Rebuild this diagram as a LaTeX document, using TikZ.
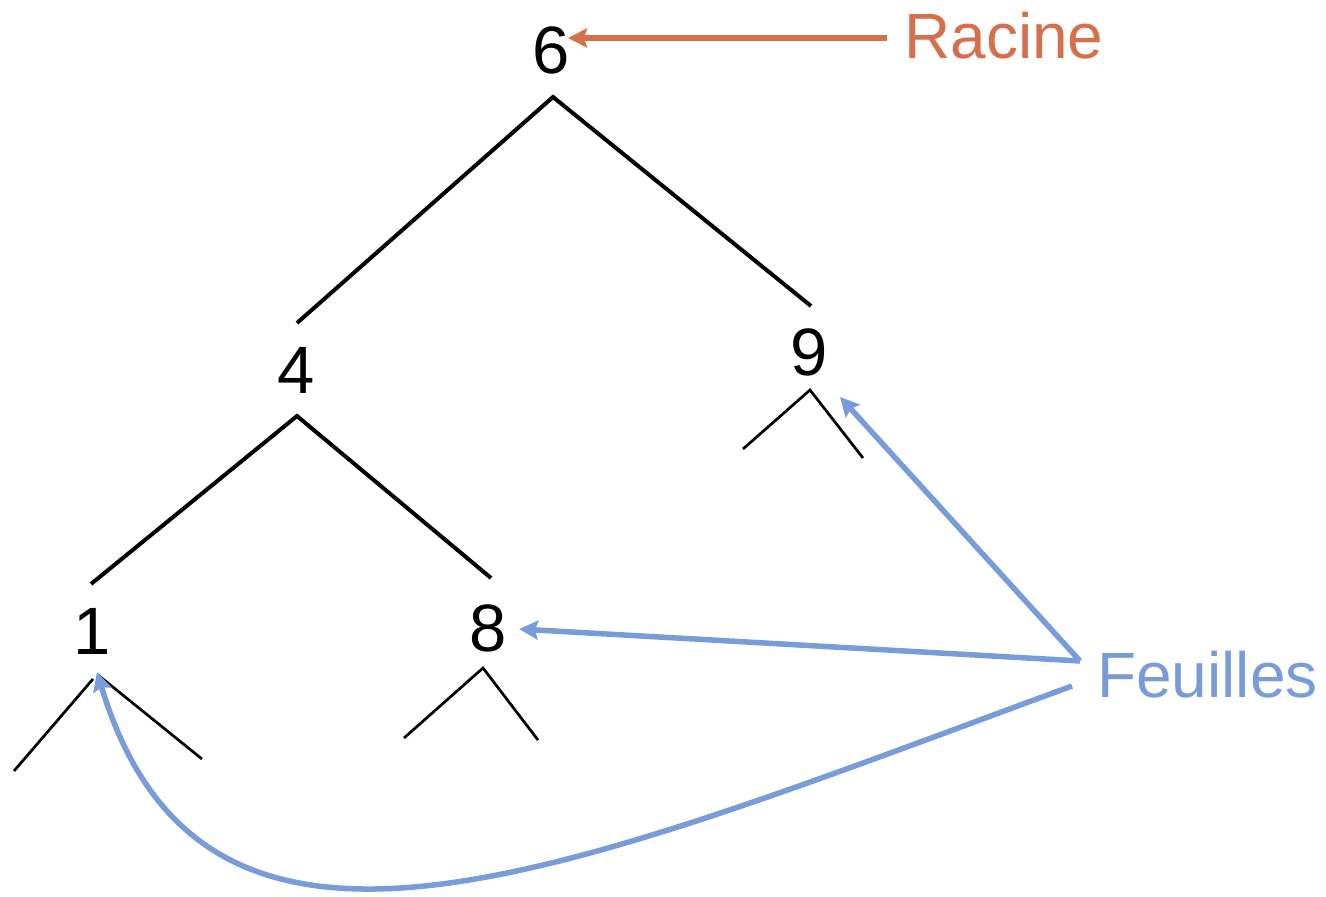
\documentclass[tikz,border=0pt]{standalone}
\usepackage{fontspec}
\setmainfont{Liberation Sans}
\usetikzlibrary{arrows.meta}
\definecolor{rootc}{HTML}{D6704C}
\definecolor{leafc}{HTML}{789BDA}
\tikzset{
  val/.style={inner sep=0pt, font=\fontsize{67}{67}\selectfont},
  lbl/.style={inner sep=0pt, anchor=west, font=\fontsize{64}{64}\selectfont},
  edge/.style={line width=4pt, black},
  twig/.style={line width=2.7pt, black},
  pointer/.style={line width=5.5pt, -{Stealth[length=19pt,width=19pt,inset=3pt]}},
}
\begin{document}
\begin{tikzpicture}[x=1pt,y=-1pt]
\useasboundingbox (0,0) rectangle (1326,897);

% values of the tree
\node[val] (n6) at (551,50) {6};
\node[val] (n4) at (296,370) {4};
\node[val] (n9) at (809,352) {9};
\node[val] (n1) at (92,631) {1};
\node[val] (n8) at (488,628) {8};

% labels
\node[lbl, text=rootc] (racine) at (904,36) {Racine};
\node[lbl, text=leafc] (feuilles) at (1097,675) {Feuilles};

% end points of the branches
\coordinate (t6) at (553,97);
\coordinate (l6) at (297,323);
\coordinate (r6) at (811,306);
\coordinate (t4) at (297,416);
\coordinate (l4) at (91,584);
\coordinate (r4) at (491,578);
\coordinate (t9) at (810,390);
\coordinate (l9) at (743,449);
\coordinate (r9) at (863,458);
\coordinate (t1l) at (93,679);
\coordinate (l1) at (14,771);
\coordinate (t1r) at (98,675);
\coordinate (r1) at (202,759);
\coordinate (t8) at (483,668);
\coordinate (l8) at (404,738);
\coordinate (r8) at (538,740);

% branches
\draw[edge] (l6) -- (t6) -- (r6);
\draw[edge] (l4) -- (t4) -- (r4);
\draw[twig] (l9) -- (t9) -- (r9);
\draw[twig] (l1) -- (t1l);
\draw[twig] (t1r) -- (r1);
\draw[twig] (l8) -- (t8) -- (r8);

% pointers from the labels
\coordinate (rs) at (887,38);
\coordinate (re) at (568,38);
\draw[pointer, rootc] (rs) -- (re);

\coordinate (fs) at (1080,661);
\coordinate (fc) at (1072,686);
\coordinate (f9) at (840,397);
\coordinate (f8) at (519,629);
\coordinate (f1) at (97,672);
\draw[pointer, leafc] (fs) -- (f9);
\draw[pointer, leafc] (fs) -- (f8);
\draw[pointer, leafc] (fc) .. controls (565,872) and (205,1030) .. (f1);
\end{tikzpicture}
\end{document}
